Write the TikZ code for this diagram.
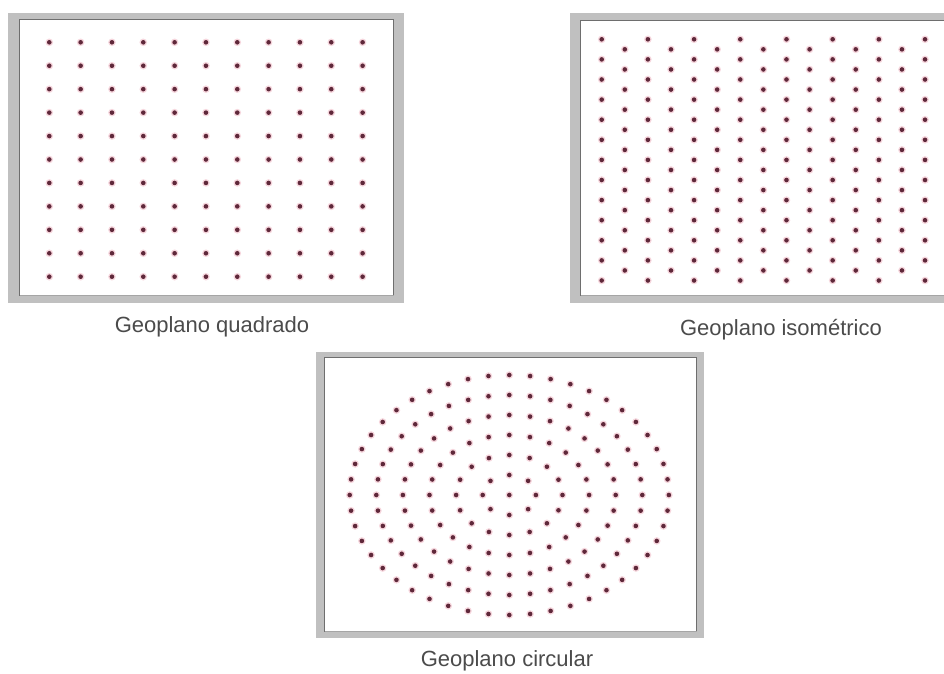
\documentclass[tikz,border=0pt]{standalone}
\usepackage{fontspec}
\setmainfont{Liberation Sans}
\definecolor{framegray}{RGB}{192,192,192}
\definecolor{framedark}{RGB}{110,110,110}
\definecolor{framelight}{RGB}{165,165,165}
\definecolor{pegcol}{RGB}{95,40,58}
\definecolor{halocol}{RGB}{230,140,160}
\definecolor{labelcol}{RGB}{75,75,75}
\tikzset{
  peg/.pic={\fill[halocol,opacity=0.35] (0,0) circle (3.8);
            \fill[pegcol] (0,0) circle (2.3);},
  caption/.style={text=labelcol,font=\fontsize{22}{26}\selectfont,inner sep=0pt,anchor=center},
  innerline/.style={draw=framedark,line width=1.8}
}
\begin{document}
\begin{tikzpicture}[x=1pt,y=-1pt]
\useasboundingbox (0,0) rectangle (944,673);
\fill[white] (0,0) rectangle (944,673);
\clip (0,0) rectangle (944,673);
% ---------- square geoboard ----------
\fill[framegray] (8,13) rectangle (404,303);
\fill[white] (20,20) rectangle (393,295);
\draw[innerline] (19.5,295.5) -- (19.5,19.5) -- (393.5,19.5) -- (393.5,295.5);
\draw[framelight,line width=1.2] (19.5,295.5) -- (393.5,295.5);
\foreach \i in {0,...,10}
  \foreach \j in {0,...,10}
    \pic at ({49.3+31.33*\i},{42.3+23.44*\j}) {peg};
\node[caption] (lq) at (212,327) {Geoplano quadrado};
% ---------- isometric geoboard ----------
\fill[framegray] (570,13) rectangle (960,303);
\fill[white] (581,21) rectangle (960,295);
\draw[innerline] (580.5,295.5) -- (580.5,20.5) -- (960,20.5);
\draw[framelight,line width=1.2] (580.5,295.5) -- (960,295.5);
\foreach \i in {0,...,7}
  \foreach \k in {0,...,12}
    \pic at ({601.7+46.19*\i},{39.3+20.1*\k}) {peg};
\foreach \i in {0,...,6}
  \foreach \k in {0,...,11}
    \pic at ({624.8+46.19*\i},{49.35+20.1*\k}) {peg};
\node[caption] (li) at (781,330) {Geoplano isométrico};
% ---------- circular geoboard ----------
\fill[framegray] (316,352) rectangle (704,638);
\fill[white] (325,358) rectangle (696,631);
\draw[innerline] (324.5,631.5) -- (324.5,357.5) -- (696.5,357.5) -- (696.5,631.5);
\draw[framelight,line width=1.2] (324.5,631.5) -- (696.5,631.5);
\pic at (509.3,495) {peg};
\foreach \r in {1,...,6}{
  \pgfmathtruncatemacro\nmax{8*\r-1}
  \foreach \m in {0,...,\nmax}
    \pic at ({509.3+26.6*\r*sin(45/\r*\m)},{495-20*\r*cos(45/\r*\m)}) {peg};
}
\node[caption] (lc) at (507,661) {Geoplano circular};
\end{tikzpicture}
\end{document}
